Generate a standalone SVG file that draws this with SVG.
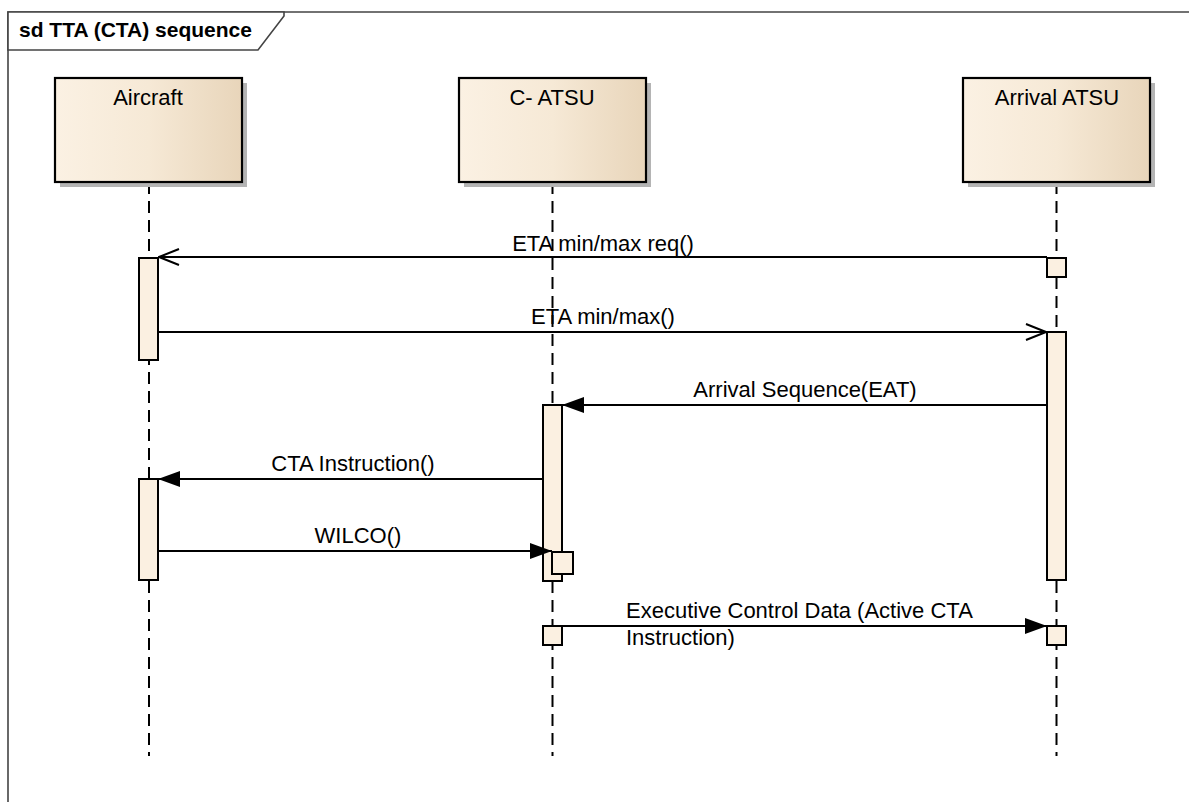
<svg xmlns="http://www.w3.org/2000/svg" width="1189" height="802" viewBox="0 0 1189 802">
<style>
text{font-family:"Liberation Sans",Arial,sans-serif;font-size:22px;fill:#000}
.t{text-anchor:middle}
.box{stroke:#000;stroke-width:2.2;fill:url(#g)}
.sh{fill:#b4b4b4}
.life{stroke:#000;stroke-width:2;stroke-dasharray:12 7;fill:none}
.act{fill:#fbf0e1;stroke:#000;stroke-width:2}
.msg{stroke:#000;stroke-width:2;fill:none}
</style>
<defs>
<linearGradient id="g" x1="0" y1="0" x2="1" y2="0">
<stop offset="0" stop-color="#fbf1e3"/>
<stop offset="0.5" stop-color="#f6e9d6"/>
<stop offset="1" stop-color="#e8d5ba"/>
</linearGradient>
<marker id="open" markerWidth="22" markerHeight="18" refX="21" refY="9" orient="auto" markerUnits="userSpaceOnUse">
<path d="M1,1 L21,9 L1,17" fill="none" stroke="#000" stroke-width="2"/>
</marker>
<marker id="fill" markerWidth="24" markerHeight="18" refX="23" refY="9" orient="auto" markerUnits="userSpaceOnUse">
<path d="M1,1 L23,9 L1,17 Z" fill="#000"/>
</marker>
</defs>
<rect width="1189" height="802" fill="#fff"/>
<g id="frame">
<path d="M8,802 L8,12 L1189,12" fill="none" stroke="#444" stroke-width="1.6"/>
<path d="M8,12 L284,12 L284,16 L258,50 L8,50 Z" fill="#fff" stroke="#444" stroke-width="1.6"/>
<text x="19" y="37" font-weight="bold" style="font-size:21px">sd TTA (CTA) sequence</text>
</g>
<g id="aircraft">
<line class="life" x1="149" y1="182" x2="149" y2="756"/>
<rect class="sh" x="60" y="83" width="187" height="104"/>
<rect class="box" x="55" y="78" width="187" height="104"/>
<text class="t" x="148" y="105">Aircraft</text>
</g>
<g id="catsu">
<line class="life" x1="552.5" y1="182" x2="552.5" y2="756"/>
<rect class="sh" x="464" y="83" width="187" height="104"/>
<rect class="box" x="459" y="78" width="187" height="104"/>
<text class="t" x="552" y="105">C- ATSU</text>
</g>
<g id="arrival">
<line class="life" x1="1056.5" y1="182" x2="1056.5" y2="756"/>
<rect class="sh" x="968" y="83" width="187" height="104"/>
<rect class="box" x="963" y="78" width="187" height="104"/>
<text class="t" x="1057" y="105">Arrival ATSU</text>
</g>
<g id="activations">
<rect class="act" x="139" y="258" width="19" height="102"/>
<rect class="act" x="139" y="479" width="19" height="101"/>
<rect class="act" x="1047" y="258" width="19" height="19"/>
<rect class="act" x="1047" y="332" width="19" height="248"/>
<rect class="act" x="543" y="405" width="19" height="176"/>
<rect class="act" x="552" y="552" width="21" height="22"/>
<rect class="act" x="543" y="626" width="19" height="19"/>
<rect class="act" x="1047" y="626" width="19" height="19"/>
</g>
<g id="connectors">
<line class="msg" x1="1047" y1="257" x2="159" y2="257" marker-end="url(#open)"/>
<text class="t" x="603" y="251">ETA min/max req()</text>
<line class="msg" x1="158" y1="332" x2="1046" y2="332" marker-end="url(#open)"/>
<text class="t" x="603" y="324">ETA min/max()</text>
<line class="msg" x1="1047" y1="405" x2="562" y2="405" marker-end="url(#fill)"/>
<text class="t" x="805" y="397">Arrival Sequence(EAT)</text>
<line class="msg" x1="543" y1="479" x2="158" y2="479" marker-end="url(#fill)"/>
<text class="t" x="353" y="471">CTA Instruction()</text>
<line class="msg" x1="158" y1="551" x2="552" y2="551" marker-end="url(#fill)"/>
<text class="t" x="358" y="543">WILCO()</text>
<line class="msg" x1="562" y1="626" x2="1047" y2="626" marker-end="url(#fill)"/>
<text x="626" y="618">Executive Control Data (Active CTA</text>
<text x="626" y="645">Instruction)</text>
</g>
</svg>
